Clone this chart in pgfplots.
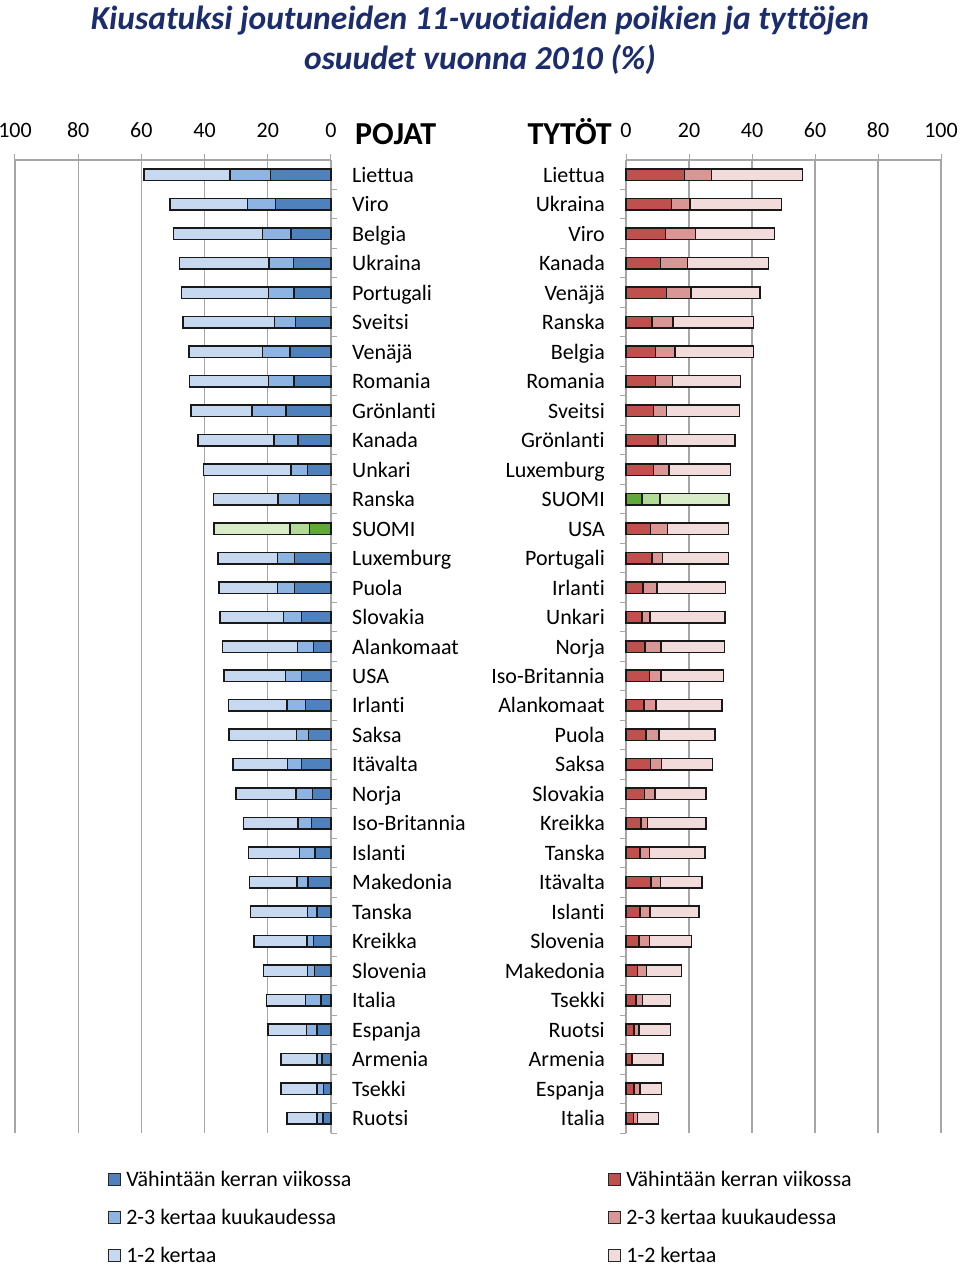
\documentclass[border=0pt]{standalone}
\usepackage{fontspec}
\setmainfont{Carlito}[Ligatures=NoCommon]
\usepackage{pgfplots}
\usepackage{pgfplotstable}
\pgfplotsset{compat=1.18}
\definecolor{bd}{RGB}{79,129,189}
\definecolor{bm}{RGB}{141,180,226}
\definecolor{bl}{RGB}{198,217,241}
\definecolor{rd}{RGB}{192,80,77}
\definecolor{rm}{RGB}{217,150,148}
\definecolor{rl}{RGB}{242,220,219}
\definecolor{gd}{RGB}{96,168,56}
\definecolor{gm}{RGB}{179,218,150}
\definecolor{gl}{RGB}{215,236,199}
\definecolor{gridgray}{RGB}{166,166,166}
\definecolor{titleblue}{RGB}{28,45,110}
\newcommand{\fs}{\fontsize{22}{26}\selectfont}

% boys: y, dark, mid, light, green dark, green mid, green light
\pgfplotstableread{
y d m l gd gm gl
0 19.1 12.9 27.2 0 0 0
1 17.5 9.0 24.5 0 0 0
2 12.7 8.9 28.2 0 0 0
3 11.9 7.7 28.4 0 0 0
4 11.7 8.0 27.6 0 0 0
5 11.2 6.6 29.1 0 0 0
6 13.0 8.6 23.3 0 0 0
7 11.7 8.0 25.0 0 0 0
8 14.3 10.7 19.3 0 0 0
9 10.4 7.7 24.0 0 0 0
10 7.5 5.2 27.6 0 0 0
11 10.0 6.8 20.4 0 0 0
12 0 0 0 6.8 6.2 24.1
13 11.6 5.4 18.7 0 0 0
14 11.5 5.4 18.6 0 0 0
15 9.4 5.6 20.2 0 0 0
16 5.5 5.1 23.7 0 0 0
17 9.3 5.1 19.5 0 0 0
18 8.1 5.8 18.5 0 0 0
19 7.1 3.8 21.4 0 0 0
20 9.3 4.5 17.2 0 0 0
21 5.8 5.3 19.0 0 0 0
22 6.1 4.3 17.3 0 0 0
23 5.0 4.9 16.2 0 0 0
24 7.2 3.5 15.1 0 0 0
25 4.4 3.1 18.0 0 0 0
26 5.5 2.1 16.8 0 0 0
27 5.2 2.3 13.8 0 0 0
28 3.1 5.0 12.3 0 0 0
29 4.5 3.3 12.1 0 0 0
30 2.9 1.6 11.4 0 0 0
31 2.3 2.1 11.5 0 0 0
32 2.6 1.9 9.4 0 0 0
}\boys

\pgfplotstableread{
y d m l gd gm gl
0 18.5 8.7 28.8 0 0 0
1 14.5 5.8 29.0 0 0 0
2 12.6 9.4 25.1 0 0 0
3 11.0 8.6 25.7 0 0 0
4 12.8 7.8 22.0 0 0 0
5 8.3 6.6 25.5 0 0 0
6 9.3 6.2 24.9 0 0 0
7 9.4 5.4 21.5 0 0 0
8 8.7 4.2 23.1 0 0 0
9 10.1 2.8 21.7 0 0 0
10 8.7 5.0 19.4 0 0 0
11 0 0 0 5.1 5.7 21.9
12 7.8 5.4 19.3 0 0 0
13 8.3 3.3 20.9 0 0 0
14 5.4 4.5 21.7 0 0 0
15 5.1 2.5 23.8 0 0 0
16 6.1 5.0 20.1 0 0 0
17 7.5 3.6 19.8 0 0 0
18 5.7 3.8 20.9 0 0 0
19 6.4 4.0 17.9 0 0 0
20 7.7 3.6 16.2 0 0 0
21 5.8 3.4 16.2 0 0 0
22 4.7 2.2 18.5 0 0 0
23 4.4 3.0 17.6 0 0 0
24 8.0 3.0 13.2 0 0 0
25 4.5 3.1 15.5 0 0 0
26 4.2 3.2 13.4 0 0 0
27 3.7 2.8 11.1 0 0 0
28 3.1 2.1 9.0 0 0 0
29 2.6 1.6 10.0 0 0 0
30 1.7 0.2 9.8 0 0 0
31 2.6 1.9 6.8 0 0 0
32 2.4 1.3 6.6 0 0 0
}\girls

\pgfplotsset{
  common/.style={
    scale only axis, height=973pt,
    xbar stacked, bar width=11.5pt,
    xmin=0, xmax=100,
    ymin=-0.5, ymax=32.5, y dir=reverse,
    xtick={0,20,...,100},
    xmajorgrids=true,
    grid style={draw=gridgray, line width=1.2pt},
    axis line style={draw=none},
    tick align=outside, major tick length=6pt,
    tick style={draw=gridgray, line width=1pt},
    xtick pos=upper, xticklabel pos=upper,
    xticklabel style={font=\fs, inner sep=0pt, yshift=16pt},
    /pgf/number format/assume math mode=true,
    ytick={0.5,1.5,...,32.5}, yticklabels={},
    yticklabel style={font=\fs, inner sep=0pt},
    extra y ticks={0,1,...,32},
    extra y tick style={major tick length=0pt, grid=none},
    clip=false,
    legend cell align=left,
    legend style={draw=none, fill=none, font=\fs, row sep=17pt, inner sep=0pt,
      nodes={inner sep=2pt, anchor=west}},
  },
  sq/.style={legend image code/.code={\draw[##1, draw=black!85, line width=0.8pt] (0pt,-6pt) rectangle (12pt,6pt); \path (15pt,0pt);}},
  bars/.style={draw=black!90, line width=1.5pt},
}

\begin{document}
\begin{tikzpicture}[x=1pt,y=1pt]
\path[use as bounding box] (0,0) rectangle (960,1267);
\node[font=\fontsize{33.5}{38}\selectfont\bfseries\itshape, text=titleblue] at (480,1246) {Kiusatuksi joutuneiden 11-vuotiaiden poikien ja tyttöjen};
\node[font=\fontsize{33.5}{38}\selectfont\bfseries\itshape, text=titleblue] at (480,1207) {osuudet vuonna 2010 (\%)};
\node[font=\fontsize{32}{36}\selectfont\bfseries, anchor=base west, inner sep=0pt] at (355,1122) {POJAT};
\node[font=\fontsize{32}{36}\selectfont\bfseries, anchor=base east, inner sep=0pt] at (612,1122) {TYTÖT};

\begin{axis}[common, at={(15pt,134pt)}, anchor=south west, width=316pt,
  x dir=reverse,
  ytick pos=right, yticklabel pos=right,
  yticklabel style={anchor=base west, xshift=21pt, yshift=-7.5pt},
  extra y tick labels={Liettua,Viro,Belgia,Ukraina,Portugali,Sveitsi,Venäjä,Romania,Grönlanti,Kanada,Unkari,Ranska,SUOMI,Luxemburg,Puola,Slovakia,Alankomaat,USA,Irlanti,Saksa,Itävalta,Norja,Iso-Britannia,Islanti,Makedonia,Tanska,Kreikka,Slovenia,Italia,Espanja,Armenia,Tsekki,Ruotsi},
  legend style={at={(axis description cs:0.294,0)}, anchor=north west, yshift=-36pt},
]
\addplot[bars, fill=bd, sq] table[x=d, y=y] {\boys};
\addplot[bars, fill=bm, sq] table[x=m, y=y] {\boys};
\addplot[bars, fill=bl, sq] table[x=l, y=y] {\boys};
\addplot[bars, fill=gd, forget plot] table[x=gd, y=y] {\boys};
\addplot[bars, fill=gm, forget plot] table[x=gm, y=y] {\boys};
\addplot[bars, fill=gl, forget plot] table[x=gl, y=y] {\boys};
\legend{Vähintään kerran viikossa, 2-3 kertaa kuukaudessa, 1-2 kertaa}
\draw[gridgray, line width=1.2pt] (axis description cs:0,1) -- (axis description cs:1,1);
\end{axis}

\begin{axis}[common, at={(626pt,134pt)}, anchor=south west, width=315pt,
  ytick pos=left, yticklabel pos=left,
  yticklabel style={anchor=base east, xshift=-21pt, yshift=-7.5pt},
  extra y tick labels={Liettua,Ukraina,Viro,Kanada,Venäjä,Ranska,Belgia,Romania,Sveitsi,Grönlanti,Luxemburg,SUOMI,USA,Portugali,Irlanti,Unkari,Norja,Iso-Britannia,Alankomaat,Puola,Saksa,Slovakia,Kreikka,Tanska,Itävalta,Islanti,Slovenia,Makedonia,Tsekki,Ruotsi,Armenia,Espanja,Italia},
  legend style={at={(axis description cs:-0.057,0)}, anchor=north west, yshift=-36pt},
]
\addplot[bars, fill=rd, sq] table[x=d, y=y] {\girls};
\addplot[bars, fill=rm, sq] table[x=m, y=y] {\girls};
\addplot[bars, fill=rl, sq] table[x=l, y=y] {\girls};
\addplot[bars, fill=gd, forget plot] table[x=gd, y=y] {\girls};
\addplot[bars, fill=gm, forget plot] table[x=gm, y=y] {\girls};
\addplot[bars, fill=gl, forget plot] table[x=gl, y=y] {\girls};
\legend{Vähintään kerran viikossa, 2-3 kertaa kuukaudessa, 1-2 kertaa}
\draw[gridgray, line width=1.2pt] (axis description cs:0,1) -- (axis description cs:1,1);
\end{axis}
\end{tikzpicture}
\end{document}
